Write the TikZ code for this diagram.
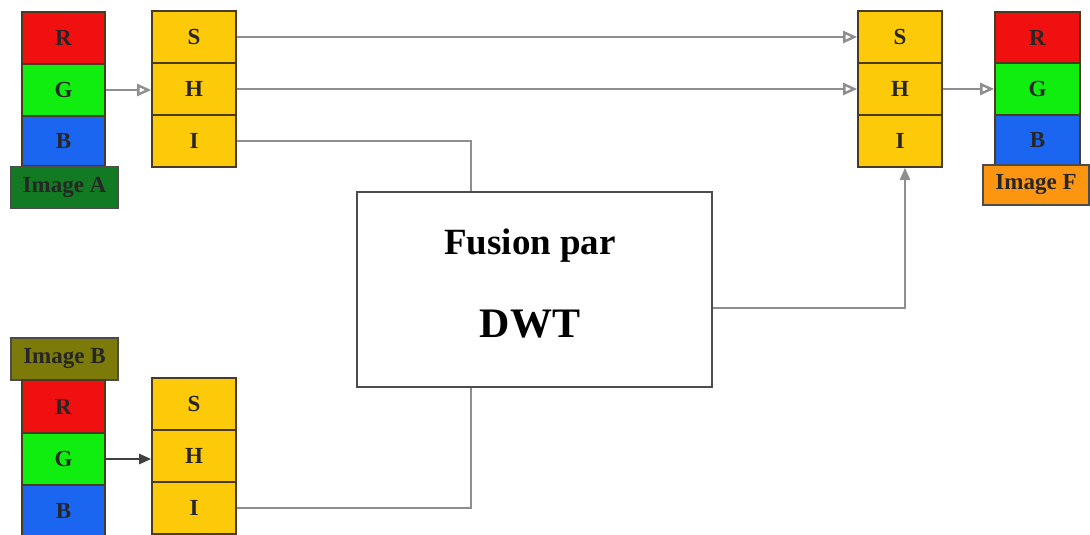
\documentclass[tikz,border=0pt]{standalone}
\usepackage{fontspec}
\setmainfont{Liberation Serif}
\usetikzlibrary{arrows.meta}
\definecolor{cR}{HTML}{F01010}
\definecolor{cG}{HTML}{10EE10}
\definecolor{cB}{HTML}{1A66F0}
\definecolor{cY}{HTML}{FCCA08}
\definecolor{cA}{HTML}{127A22}
\definecolor{cBB}{HTML}{7C7A08}
\definecolor{cF}{HTML}{FC9610}
\definecolor{edge}{HTML}{4A3A20}
\definecolor{wire}{HTML}{8E8E8E}
\tikzset{
  cell/.style={draw=edge, line width=1.6pt, minimum width=84pt, minimum height=52pt,
    inner sep=0pt, font=\fontsize{23}{23}\selectfont\bfseries, text=black!85},
  tag/.style={draw=black!70, line width=1.4pt, minimum width=107pt, minimum height=42pt,
    inner sep=0pt, font=\fontsize{23}{23}\selectfont\bfseries, text=black!85},
  wireline/.style={draw=wire, line width=2.4pt},
  openarrow/.style={wireline, -{Triangle[open, length=14pt, width=12pt, fill=white]}},
  fillarrow/.style={draw=black!75, line width=2.4pt, -{Triangle[length=12pt, width=10pt]}}
}
\begin{document}
\begin{tikzpicture}[x=1pt,y=-1pt]
\useasboundingbox (0,0) rectangle (1090,535);

% Image A: RGB stack
\node[cell, fill=cR, minimum width=83pt] (rA) at (63.5,38) {R};
\node[cell, fill=cG, minimum width=83pt] (gA) at (63.5,90) {G};
\node[cell, fill=cB, minimum width=83pt, minimum height=50pt] (bA) at (63.5,141) {B};
\node[tag, fill=cA] (labA) at (64.5,187.5) {Image A};

% Image A: SHI stack
\node[cell, fill=cY] (sA) at (194,37) {S};
\node[cell, fill=cY] (hA) at (194,89) {H};
\node[cell, fill=cY] (iA) at (194,141) {I};

% fused image: SHI stack
\node[cell, fill=cY] (sF) at (900,37) {S};
\node[cell, fill=cY] (hF) at (900,89) {H};
\node[cell, fill=cY] (iF) at (900,141) {I};

% fused image: RGB stack
\node[cell, fill=cR, minimum width=85pt, minimum height=51pt] (rF) at (1037.5,37.5) {R};
\node[cell, fill=cG, minimum width=85pt] (gF) at (1037.5,89) {G};
\node[cell, fill=cB, minimum width=85pt, minimum height=50pt] (bF) at (1037.5,140) {B};
\node[tag, fill=cF, minimum width=106pt, minimum height=40pt] (labF) at (1036,185) {Image F};

% Image B: label and RGB stack
\node[tag, fill=cBB] (labB) at (64.5,359) {Image B};
\node[cell, fill=cR, minimum width=83pt, minimum height=53pt] (rB) at (63.5,406.5) {R};
\node[cell, fill=cG, minimum width=83pt] (gB) at (63.5,459) {G};
\node[cell, fill=cB, minimum width=83pt] (bB) at (63.5,511) {B};

% Image B: SHI stack
\node[cell, fill=cY] (sB) at (194,404) {S};
\node[cell, fill=cY] (hB) at (194,456) {H};
\node[cell, fill=cY] (iB) at (194,508) {I};

% wavelet fusion block
\node[draw=black!70, line width=2.4pt, fill=white, minimum width=355pt, minimum height=195pt,
  inner sep=0pt] (fus) at (534.5,289.5) {};
\node[font=\fontsize{37}{37}\selectfont\bfseries, anchor=base] (t1) at (530,254) {Fusion par};
\node[font=\fontsize{42}{42}\selectfont\bfseries, anchor=base] (t2) at (530,337) {DWT};

% colour space conversions
\draw[openarrow] (gA.east) -- (gA.east -| hA.west);
\draw[openarrow] (hF.east) -- (hF.east -| gF.west);
\draw[fillarrow] (gB.east) -- (gB.east -| hB.west);

% S and H channels pass straight through
\draw[openarrow] (sA.east) -- (sF.west);
\draw[openarrow] (hA.east) -- (hF.west);

% intensity channels into and out of the fusion block
\draw[wireline] (iA.east) -| ([xshift=115pt]fus.north west);
\draw[wireline] (iB.east) -| ([xshift=115pt]fus.south west);
\draw[fillarrow, draw=wire] ([yshift=-18.5pt]fus.east) -| ([xshift=5pt]iF.south);
\end{tikzpicture}
\end{document}
